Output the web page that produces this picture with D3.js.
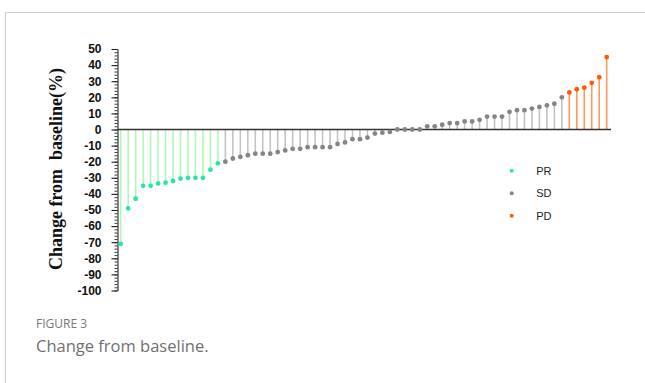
<!DOCTYPE html>
<html>
<head>
<meta charset="utf-8">
<script src="https://cdn.jsdelivr.net/npm/d3@7"></script>
<style>
  html, body { margin: 0; padding: 0; background: #fff; }
  svg { display: block; }
</style>
</head>
<body>
<svg id="chart" width="645" height="383"></svg>
<script>
// Best overall response: percent change of target lesions from baseline, one stem per patient
const groups = ["PR", "SD", "PD"];
const prValues = [-71, -49, -43, -35, -35, -33.5, -33, -32, -30.5, -30, -30, -30, -25, -21];
const sdValues = [-20, -18, -17, -16, -15, -15, -15, -14, -13, -12, -12, -11, -11, -11, -11,
                  -9, -8, -6, -6, -5, -2.5, -2, -1.5, 0, 0, 0, 0, 2, 2, 3, 4, 4, 5, 5, 6,
                  8, 8, 8, 11, 12, 12, 13, 14, 15, 16, 20];
const pdValues = [23, 25, 26, 29, 32.5, 45];
const yTickLabels = [50, 40, 30, 20, 10, 0, -10, -20, -30, -40, -50, -60, -70, -80, -90, -100];

const dotColor = { PR: "#2ee3a6", SD: "#858585", PD: "#ff5a0a" };
const stemColor = { PR: "#b3f7b8", SD: "#c4c4c4", PD: "#ff9a5c" };

const rows = [];
[["PR", prValues], ["SD", sdValues], ["PD", pdValues]].forEach(([g, vals]) =>
  vals.forEach(v => rows.push({ id: rows.length + 1, group: g, value: v })));
const patients = rows.map(d => d.id);

const svg = d3.select("#chart");

// outer frame (top and left edges visible)
svg.append("path")
  .attr("d", "M5.5,700 V12.5 H700")
  .attr("fill", "none").attr("stroke", "#cfcfcf").attr("stroke-width", 1.2);

const x = d3.scalePoint().domain(patients).range([120.7, 606.7]);
const y = d3.scaleLinear().domain([-100, 50]).range([290.5, 49]);

// minor ticks every 2 units
svg.append("g")
  .attr("transform", "translate(117.5,0)")
  .call(d3.axisLeft(y).tickValues(d3.range(-100, 51, 2)).tickSize(3).tickFormat(""))
  .call(g => g.select(".domain").remove())
  .call(g => g.selectAll("line").attr("stroke", "#222").attr("stroke-width", 0.9));

// major ticks with labels (plain hyphen for negatives)
const yAxis = svg.append("g")
  .attr("transform", "translate(117.5,0)")
  .call(d3.axisLeft(y).tickValues(yTickLabels).tickSize(6).tickSizeOuter(0)
    .tickPadding(10).tickFormat(d => String(d)));
yAxis.select(".domain").attr("stroke", "#222").attr("stroke-width", 1.1);
yAxis.selectAll("line").attr("stroke", "#222").attr("stroke-width", 1.1);
yAxis.selectAll("text")
  .attr("font-family", "'Liberation Sans', Arial, sans-serif")
  .attr("font-weight", "bold").attr("font-size", 12).attr("fill", "#111");

// stems
svg.append("g").selectAll("line").data(rows).join("line")
  .attr("x1", d => x(d.id)).attr("x2", d => x(d.id))
  .attr("y1", y(0)).attr("y2", d => y(d.value))
  .attr("stroke", d => stemColor[d.group]).attr("stroke-width", 1.6);

// zero baseline
svg.append("line")
  .attr("x1", 117.5).attr("x2", 611).attr("y1", y(0)).attr("y2", y(0))
  .attr("stroke", "#333").attr("stroke-width", 1.3);

// dots
svg.append("g").selectAll("circle").data(rows).join("circle")
  .attr("cx", d => x(d.id)).attr("cy", d => y(d.value)).attr("r", 2.4)
  .attr("fill", d => dotColor[d.group]);

// y-axis title
svg.append("text")
  .attr("transform", "translate(61.5,169) rotate(-90)")
  .attr("text-anchor", "middle")
  .attr("font-family", "'Liberation Serif', 'Times New Roman', serif")
  .attr("font-weight", "bold").attr("font-size", 18).attr("fill", "#111")
  .style("white-space", "pre")
  .text("Change from  baseline(%)");

// legend
const legend = svg.append("g").selectAll("g").data(groups).join("g")
  .attr("transform", (d, i) => `translate(511.7,${170.7 + i * 22.5})`);
legend.append("circle").attr("r", 2).attr("fill", d => dotColor[d]);
legend.append("text").attr("x", 24.5).attr("dy", "0.35em")
  .attr("font-family", "'Liberation Sans', Arial, sans-serif")
  .attr("font-size", 11).attr("fill", "#222").text(d => d);

// caption
svg.append("text").attr("x", 36).attr("y", 328)
  .attr("font-family", "'Open Sans', 'Noto Sans', sans-serif")
  .attr("font-size", 12).attr("fill", "#777").text("FIGURE 3");
svg.append("text").attr("x", 36).attr("y", 352)
  .attr("font-family", "'Open Sans', 'Noto Sans', sans-serif")
  .attr("font-size", 16.5).attr("fill", "#707070").text("Change from baseline.");
</script>
</body>
</html>
